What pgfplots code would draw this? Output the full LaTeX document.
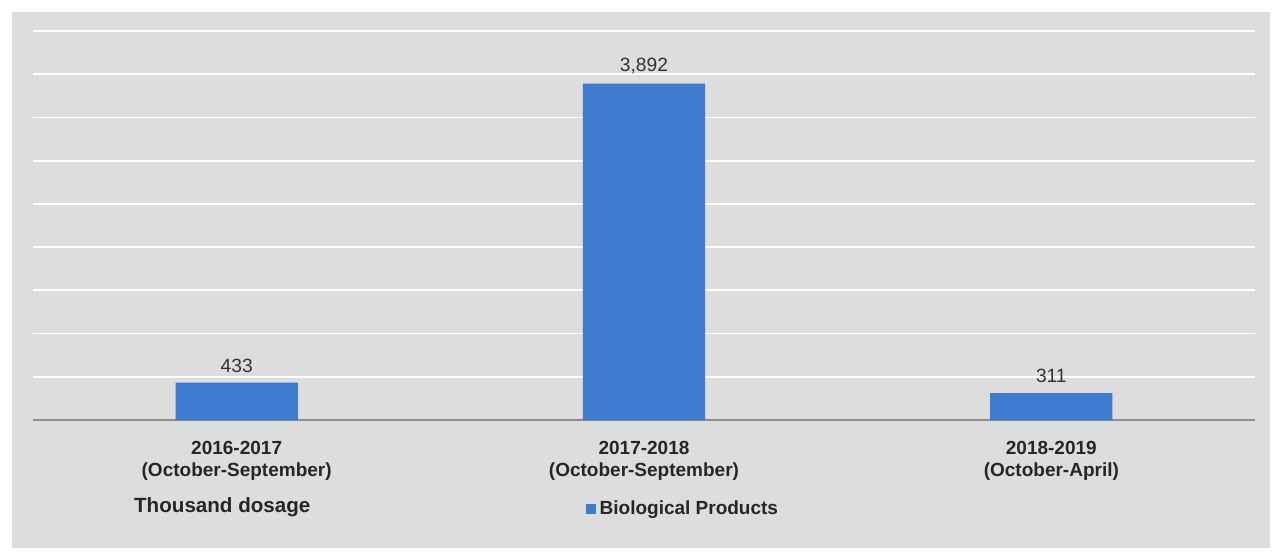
\documentclass[border=0pt]{standalone}
\usepackage{pgfplots}
\pgfplotsset{compat=1.18}
\usepackage{fontspec}
\setmainfont{Liberation Sans}
\definecolor{barblue}{RGB}{62,122,206}
\definecolor{panel}{RGB}{221,221,221}
\definecolor{baseline}{RGB}{140,140,140}
\begin{document}
\begin{tikzpicture}
% 1 px = 0.5pt ; axis origin at pixel (33,420)
\fill[white] (-16.5pt,210pt) rectangle (621.5pt,-66pt);
\fill[panel] (-10.5pt,204pt) rectangle (618.5pt,-64pt);
\begin{axis}[
  scale only axis,
  clip=false,
  width=611pt, height=194.5pt,
  at={(0,0)}, anchor=south west,
  xmin=-0.5, xmax=2.5,
  ymin=0, ymax=4500,
  ytick={0,500,...,4500},
  yticklabels={},
  ymajorgrids,
  grid style={white, line width=0.9pt},
  axis x line*=bottom,
  axis y line*=left,
  y axis line style={draw=none},
  x axis line style={draw=baseline, line width=1.1pt, -},
  major tick length=0pt,
  xtick={0,1,2},
  xticklabels={2016-2017\\(October-September),2017-2018\\(October-September),2018-2019\\(October-April)},
  xticklabel style={align=center, font=\fontsize{9.5}{11}\selectfont\bfseries, text=black!85, yshift=-7pt},
  /pgf/number format/assume math mode=true,
  ybar, bar width=0.3,
  nodes near coords,
  every node near coord/.append style={font=\fontsize{9.6}{11}\selectfont, text=black!80, yshift=1.5pt, /pgf/number format/1000 sep={,}},
  legend style={at={(0.447,-0.229)}, anchor=west, draw=none, fill=none, font=\fontsize{9.5}{11}\selectfont\bfseries, text=black!85},
  legend image code/.code={\fill[barblue] (0pt,-2.5pt) rectangle (5pt,2.5pt);},
]
\addplot[fill=barblue, draw=none] coordinates {(0,433) (1,3892) (2,311)};
\addlegendentry{Biological Products}
\node[anchor=west, font=\fontsize{10.3}{12}\selectfont\bfseries, text=black!85] at (axis description cs:0.077,-0.225) {Thousand dosage};
\end{axis}
\end{tikzpicture}
\end{document}
